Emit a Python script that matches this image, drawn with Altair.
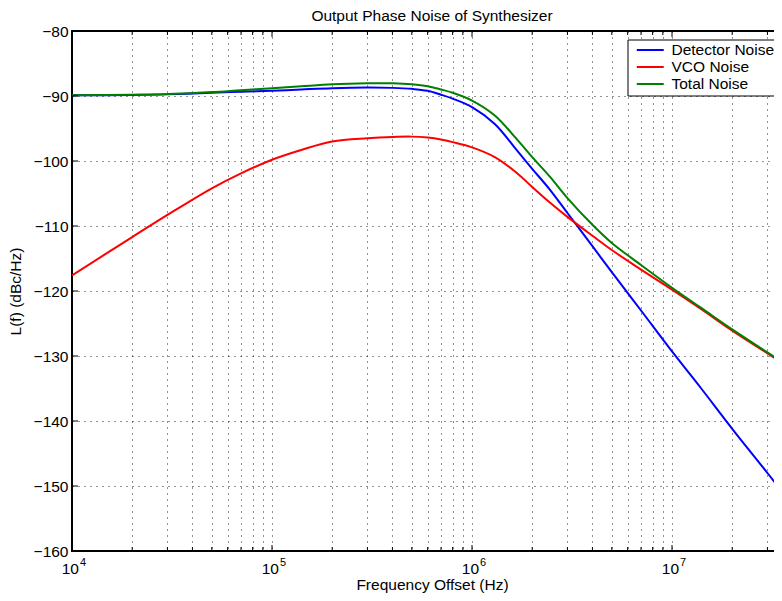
import altair as alt
import pandas as pd

# ---- data ----
freq = [1e4, 2e4, 3e4, 5e4, 7e4, 1e5, 1.4e5, 2e5, 3e5, 4e5, 5e5, 6e5, 7e5, 8e5,
        1e6, 1.3e6, 1.67e6, 2e6, 2.45e6, 3e6, 4e6, 5e6, 7e6, 1e7, 1.4e7, 2e7, 3e7, 4e7]
detector = [-89.9, -89.85, -89.75, -89.5, -89.35, -89.2, -89.0, -88.8, -88.7, -88.75,
            -88.9, -89.2, -89.8, -90.4, -91.7, -94.3, -98.3, -101.2, -104.4, -108.0,
            -113.1, -117.1, -123.0, -129.3, -135.0, -141.2, -148.0, -152.9]
vco = [-117.6, -111.7, -108.3, -104.2, -101.9, -99.8, -98.3, -97.0, -96.5, -96.3,
       -96.25, -96.4, -96.7, -97.1, -97.9, -99.4, -101.8, -104.0, -106.4, -108.6,
       -111.5, -113.7, -116.7, -119.8, -122.8, -126.1, -129.6, -132.1]
total = [-89.9, -89.8, -89.7, -89.4, -89.1, -88.8, -88.5, -88.2, -88.05, -88.05,
         -88.2, -88.5, -89.0, -89.5, -90.7, -93.0, -96.6, -99.4, -102.4, -105.7,
         -109.8, -112.6, -116.0, -119.5, -122.6, -125.9, -129.45, -132.0]

series_names = ["Detector Noise", "VCO Noise", "Total Noise"]
series_colors = ["#0000ff", "#ff0000", "#008000"]

chart_title = ["Output Phase Noise of Synthesizer"]
x_major = [1e4, 1e5, 1e6, 1e7]
x_major_base = ["10", "10", "10", "10"]
x_major_exp = ["4", "5", "6", "7"]
x_minor = [2e4, 3e4, 4e4, 5e4, 6e4, 7e4, 8e4, 9e4,
           2e5, 3e5, 4e5, 5e5, 6e5, 7e5, 8e5, 9e5,
           2e6, 3e6, 4e6, 5e6, 6e6, 7e6, 8e6, 9e6,
           2e7, 3e7]
x_domain = [1e4, 3.273e7]
y_ticks = [-160, -150, -140, -130, -120, -110, -100, -90, -80]
y_inner_ticks = [-150, -140, -130, -120, -110, -100, -90]

FONT = "Liberation Sans"
FS = 15.5
W, H = 703, 520

rows = []
for name, vals in zip(series_names, [detector, vco, total]):
    for f, v in zip(freq, vals):
        rows.append({"f": f, "L": v, "series": name})
df = pd.DataFrame(rows)

xscale = alt.Scale(type="log", domain=x_domain, nice=False)
yscale = alt.Scale(domain=[-160, -80], nice=False, zero=False)

x_axis = alt.Axis(values=x_major + x_minor, labels=False, ticks=False,
                  domain=False, grid=True, title="Frequency Offset (Hz)",
                  titleX=360, titleY=38.5, titleBaseline="alphabetic", titleAlign="center")
y_axis = alt.Axis(values=y_ticks, ticks=False, domain=False, grid=True,
                  labelPadding=4, title="L(f) (dBc/Hz)", titleAngle=270,
                  titleX=-52, titleY=H / 2, titleAlign="center",
                  titleBaseline="alphabetic")

xe = alt.X("f:Q", scale=xscale, axis=x_axis)
ye = alt.Y("L:Q", scale=yscale, axis=y_axis)

lines = alt.Chart(df).mark_line(strokeWidth=2, interpolate="catmull-rom", clip=True).encode(
    x=xe,
    y=ye,
    color=alt.Color("series:N", sort=series_names,
                    scale=alt.Scale(domain=series_names, range=series_colors),
                    legend=alt.Legend(title=None, orient="none", legendX=555.5, legendY=8.5,
                                      strokeColor="black", fillColor="white", padding=2.5,
                                      symbolType="M-2,0H2", symbolSize=182,
                                      symbolStrokeWidth=2, symbolOffset=12.25,
                                      labelFontSize=FS, labelFont=FONT,
                                      labelColor="black", labelOffset=13.25, rowPadding=0,
                                      labelExpr="datum.label + '\u00a0\u00a0\u00a0'",
                                      cornerRadius=0)),
)

major_df = pd.DataFrame({"f": x_major, "base": x_major_base, "exp": x_major_exp})
minor_df = pd.DataFrame({"f": x_minor})
yt_df = pd.DataFrame({"L": y_inner_ticks})
title_df = pd.DataFrame({"t": chart_title})

top_major = alt.Chart(major_df).mark_rule(color="black", strokeWidth=1).encode(
    x=xe, y=alt.value(0), y2=alt.value(6))
top_minor = alt.Chart(minor_df).mark_rule(color="black", strokeWidth=1).encode(
    x=xe, y=alt.value(0), y2=alt.value(4))
bot_major = alt.Chart(major_df).mark_rule(color="black", strokeWidth=1).encode(
    x=xe, y=alt.value(H), y2=alt.value(H - 6))
bot_minor = alt.Chart(minor_df).mark_rule(color="black", strokeWidth=1).encode(
    x=xe, y=alt.value(H), y2=alt.value(H - 4))
left_ticks = alt.Chart(yt_df).mark_rule(color="black", strokeWidth=1).encode(
    y=ye, x=alt.value(0), x2=alt.value(6))

lab_base = alt.Chart(major_df).mark_text(
    align="right", baseline="alphabetic", dx=7, fontSize=FS, font=FONT, color="black"
).encode(x=xe, y=alt.value(H + 23), text="base:N")
lab_exp = alt.Chart(major_df).mark_text(
    align="left", baseline="alphabetic", dx=8, fontSize=11, font=FONT, color="black"
).encode(x=xe, y=alt.value(H + 15), text="exp:N")

title_mark = alt.Chart(title_df).mark_text(
    align="center", baseline="alphabetic", fontSize=FS, font=FONT, color="black"
).encode(x=alt.value(360), y=alt.value(-10.3), text="t:N")

chart = alt.layer(
    lines, top_major, top_minor, bot_major, bot_minor, left_ticks, lab_base, lab_exp,
    title_mark
).properties(
    width=W, height=H,
    autosize=alt.AutoSizeParams(type="none"),
    padding={"left": 64, "top": 23, "right": -1, "bottom": 42},
).configure(font=FONT).configure_axis(
    gridDash=[1, 5], gridColor="#000", gridOpacity=0.85, gridWidth=1,
    labelFont=FONT, labelFontSize=FS, labelColor="black",
    titleFont=FONT, titleFontSize=FS, titleFontWeight="normal", titleColor="black",
).configure_view(stroke="#000", strokeWidth=2)

chart.save("out.html", embed_options={"renderer": "svg", "actions": False})
